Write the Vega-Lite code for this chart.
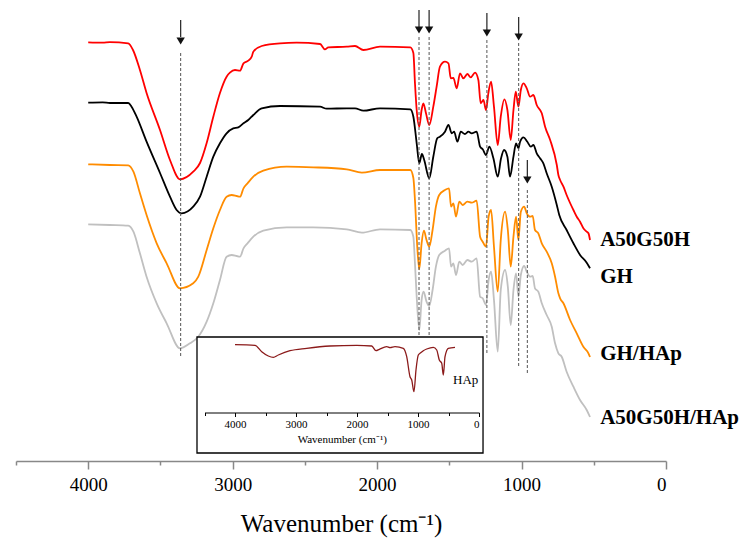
{
  "$schema": "https://vega.github.io/schema/vega-lite/v6.json",
  "width": 650,
  "height": 461,
  "autosize": "none",
  "padding": {"left": 16, "top": 0, "right": 81, "bottom": 78},
  "config": {"font": "Liberation Serif", "view": {"stroke": null}, "axis": {"labelFont": "Liberation Serif", "titleFont": "Liberation Serif"}, "text": {"font": "Liberation Serif"}},
  "datasets": {
    "spec": [
      {"s":"r","w":4000,"v":418.7},{"s":"r","w":3900,"v":418.3},{"s":"r","w":3850,"v":418.8},{"s":"r","w":3723,"v":417.7},{"s":"r","w":3690,"v":411},{"s":"r","w":3642,"v":391},{"s":"r","w":3596,"v":368},{"s":"r","w":3503,"v":331},{"s":"r","w":3434,"v":301},{"s":"r","w":3365,"v":281.7},{"s":"r","w":3273,"v":289.3},{"s":"r","w":3226,"v":298},{"s":"r","w":3180,"v":318},{"s":"r","w":3134,"v":344.3},{"s":"r","w":3088,"v":368},{"s":"r","w":3042,"v":384.3},{"s":"r","w":3019,"v":388.3},{"s":"r","w":2984,"v":391},{"s":"r","w":2949,"v":390.3},{"s":"r","w":2925,"v":397.7},{"s":"r","w":2892,"v":400.3},{"s":"r","w":2868,"v":404.3},{"s":"r","w":2857,"v":409.3},{"s":"r","w":2799,"v":415},{"s":"r","w":2672,"v":417.7},{"s":"r","w":2557,"v":418.3},{"s":"r","w":2395,"v":417},{"s":"r","w":2361,"v":411.7},{"s":"r","w":2338,"v":413.7},{"s":"r","w":2210,"v":414.3},{"s":"r","w":2153,"v":415},{"s":"r","w":2095,"v":411},{"s":"r","w":1980,"v":414.3},{"s":"r","w":1770,"v":413.7},{"s":"r","w":1749,"v":408},{"s":"r","w":1738,"v":378},{"s":"r","w":1726,"v":351},{"s":"r","w":1708,"v":334.3},{"s":"r","w":1692,"v":351},{"s":"r","w":1680,"v":357.7},{"s":"r","w":1662,"v":348},{"s":"r","w":1639,"v":336},{"s":"r","w":1611,"v":354.3},{"s":"r","w":1588,"v":374.3},{"s":"r","w":1565,"v":394.3},{"s":"r","w":1530,"v":399.3},{"s":"r","w":1506,"v":397.7},{"s":"r","w":1490,"v":382.7},{"s":"r","w":1472,"v":383},{"s":"r","w":1449,"v":372.7},{"s":"r","w":1426,"v":387.7},{"s":"r","w":1403,"v":382.7},{"s":"r","w":1375,"v":387},{"s":"r","w":1352,"v":383.7},{"s":"r","w":1322,"v":388.3},{"s":"r","w":1299,"v":381},{"s":"r","w":1283,"v":357.7},{"s":"r","w":1264,"v":361},{"s":"r","w":1246,"v":351},{"s":"r","w":1230,"v":367.7},{"s":"r","w":1211,"v":379.3},{"s":"r","w":1191,"v":354.3},{"s":"r","w":1165,"v":316},{"s":"r","w":1144,"v":344.3},{"s":"r","w":1119,"v":361.7},{"s":"r","w":1098,"v":351},{"s":"r","w":1075,"v":321},{"s":"r","w":1056,"v":351},{"s":"r","w":1040,"v":369.3},{"s":"r","w":1022,"v":354.3},{"s":"r","w":1005,"v":371},{"s":"r","w":987,"v":377.7},{"s":"r","w":964,"v":372.7},{"s":"r","w":941,"v":364.3},{"s":"r","w":918,"v":366},{"s":"r","w":895,"v":356},{"s":"r","w":860,"v":347.7},{"s":"r","w":837,"v":334.3},{"s":"r","w":802,"v":321},{"s":"r","w":756,"v":296},{"s":"r","w":745,"v":286},{"s":"r","w":733,"v":281},{"s":"r","w":710,"v":274.3},{"s":"r","w":688,"v":266},{"s":"r","w":664,"v":258},{"s":"r","w":641,"v":251},{"s":"r","w":618,"v":244.3},{"s":"r","w":595,"v":239.3},{"s":"r","w":572,"v":232.7},{"s":"r","w":549,"v":229.3},{"s":"r","w":537,"v":227.7},{"s":"r","w":526,"v":221},
      {"s":"k","w":4000,"v":358.3},{"s":"k","w":3900,"v":358.6},{"s":"k","w":3850,"v":358},{"s":"k","w":3723,"v":358},{"s":"k","w":3700,"v":354.3},{"s":"k","w":3665,"v":344.3},{"s":"k","w":3596,"v":319.3},{"s":"k","w":3503,"v":288},{"s":"k","w":3434,"v":264.3},{"s":"k","w":3388,"v":251},{"s":"k","w":3354,"v":247.7},{"s":"k","w":3273,"v":254.3},{"s":"k","w":3226,"v":264.3},{"s":"k","w":3180,"v":284.3},{"s":"k","w":3134,"v":304.3},{"s":"k","w":3088,"v":317.7},{"s":"k","w":3042,"v":327.7},{"s":"k","w":2996,"v":332.7},{"s":"k","w":2961,"v":333.7},{"s":"k","w":2925,"v":337.7},{"s":"k","w":2892,"v":341},{"s":"k","w":2857,"v":346},{"s":"k","w":2799,"v":352.7},{"s":"k","w":2672,"v":355},{"s":"k","w":2395,"v":354.3},{"s":"k","w":2349,"v":352.3},{"s":"k","w":2210,"v":352.7},{"s":"k","w":2153,"v":352.7},{"s":"k","w":2095,"v":350.3},{"s":"k","w":1980,"v":352.7},{"s":"k","w":1770,"v":351.7},{"s":"k","w":1749,"v":344.3},{"s":"k","w":1726,"v":317.7},{"s":"k","w":1708,"v":297.7},{"s":"k","w":1690,"v":307},{"s":"k","w":1674,"v":301},{"s":"k","w":1639,"v":282.7},{"s":"k","w":1611,"v":304.3},{"s":"k","w":1584,"v":322.7},{"s":"k","w":1565,"v":324.3},{"s":"k","w":1530,"v":329.3},{"s":"k","w":1506,"v":336},{"s":"k","w":1483,"v":327.7},{"s":"k","w":1467,"v":329.3},{"s":"k","w":1444,"v":319.3},{"s":"k","w":1421,"v":329.3},{"s":"k","w":1392,"v":327},{"s":"k","w":1368,"v":329.3},{"s":"k","w":1345,"v":327.7},{"s":"k","w":1311,"v":329.3},{"s":"k","w":1287,"v":314.3},{"s":"k","w":1269,"v":311.7},{"s":"k","w":1246,"v":306},{"s":"k","w":1223,"v":314.3},{"s":"k","w":1195,"v":302.7},{"s":"k","w":1165,"v":284.3},{"s":"k","w":1142,"v":302.7},{"s":"k","w":1121,"v":311},{"s":"k","w":1098,"v":304.3},{"s":"k","w":1080,"v":284.3},{"s":"k","w":1056,"v":304.3},{"s":"k","w":1038,"v":317.7},{"s":"k","w":1022,"v":312.7},{"s":"k","w":1010,"v":319.3},{"s":"k","w":987,"v":323.7},{"s":"k","w":960,"v":319.3},{"s":"k","w":936,"v":314.3},{"s":"k","w":918,"v":316},{"s":"k","w":895,"v":307.7},{"s":"k","w":872,"v":302.7},{"s":"k","w":849,"v":297.7},{"s":"k","w":826,"v":287.7},{"s":"k","w":791,"v":274.3},{"s":"k","w":756,"v":256},{"s":"k","w":739,"v":246},{"s":"k","w":688,"v":231},{"s":"k","w":641,"v":217.7},{"s":"k","w":595,"v":206},{"s":"k","w":549,"v":198.3},{"s":"k","w":526,"v":192.7},
      {"s":"o","w":4000,"v":296.7},{"s":"o","w":3850,"v":296},{"s":"o","w":3723,"v":295.7},{"s":"o","w":3687,"v":289.3},{"s":"o","w":3642,"v":267.7},{"s":"o","w":3596,"v":246},{"s":"o","w":3526,"v":217.7},{"s":"o","w":3457,"v":197.7},{"s":"o","w":3365,"v":172.7},{"s":"o","w":3273,"v":177.7},{"s":"o","w":3238,"v":184.3},{"s":"o","w":3180,"v":211},{"s":"o","w":3134,"v":232.7},{"s":"o","w":3088,"v":251},{"s":"o","w":3042,"v":264.3},{"s":"o","w":3007,"v":266},{"s":"o","w":2972,"v":265},{"s":"o","w":2949,"v":264.3},{"s":"o","w":2925,"v":272.7},{"s":"o","w":2897,"v":277.7},{"s":"o","w":2857,"v":284.3},{"s":"o","w":2788,"v":290.3},{"s":"o","w":2626,"v":294.3},{"s":"o","w":2442,"v":293.7},{"s":"o","w":2210,"v":291.7},{"s":"o","w":2106,"v":288.3},{"s":"o","w":1980,"v":291},{"s":"o","w":1770,"v":291},{"s":"o","w":1749,"v":283},{"s":"o","w":1738,"v":261},{"s":"o","w":1722,"v":214.3},{"s":"o","w":1708,"v":191.7},{"s":"o","w":1692,"v":217.7},{"s":"o","w":1676,"v":230.3},{"s":"o","w":1658,"v":221},{"s":"o","w":1639,"v":214.3},{"s":"o","w":1616,"v":231},{"s":"o","w":1593,"v":254.3},{"s":"o","w":1570,"v":266},{"s":"o","w":1530,"v":271},{"s":"o","w":1502,"v":272.7},{"s":"o","w":1488,"v":254.3},{"s":"o","w":1472,"v":257.7},{"s":"o","w":1454,"v":244.3},{"s":"o","w":1431,"v":259.3},{"s":"o","w":1408,"v":256},{"s":"o","w":1375,"v":259.3},{"s":"o","w":1345,"v":258.3},{"s":"o","w":1311,"v":260.3},{"s":"o","w":1287,"v":224.3},{"s":"o","w":1269,"v":219.3},{"s":"o","w":1246,"v":214.3},{"s":"o","w":1228,"v":244.3},{"s":"o","w":1211,"v":251},{"s":"o","w":1191,"v":214.3},{"s":"o","w":1165,"v":169.3},{"s":"o","w":1144,"v":221},{"s":"o","w":1114,"v":249.3},{"s":"o","w":1095,"v":231},{"s":"o","w":1075,"v":194.3},{"s":"o","w":1056,"v":224.3},{"s":"o","w":1038,"v":244.3},{"s":"o","w":1022,"v":221},{"s":"o","w":1005,"v":249.3},{"s":"o","w":982,"v":254.3},{"s":"o","w":964,"v":247.7},{"s":"o","w":941,"v":244.3},{"s":"o","w":923,"v":245},{"s":"o","w":907,"v":231},{"s":"o","w":884,"v":227.7},{"s":"o","w":860,"v":217.7},{"s":"o","w":826,"v":209.3},{"s":"o","w":791,"v":197.7},{"s":"o","w":768,"v":184.3},{"s":"o","w":745,"v":167.7},{"s":"o","w":733,"v":162.7},{"s":"o","w":710,"v":157.7},{"s":"o","w":664,"v":141},{"s":"o","w":618,"v":127.7},{"s":"o","w":572,"v":114.3},{"s":"o","w":537,"v":107.7},{"s":"o","w":526,"v":104},
      {"s":"g","w":4000,"v":236.7},{"s":"g","w":3850,"v":236},{"s":"g","w":3723,"v":235.3},{"s":"g","w":3687,"v":229.3},{"s":"g","w":3642,"v":207.7},{"s":"g","w":3596,"v":184.3},{"s":"g","w":3526,"v":157.7},{"s":"g","w":3457,"v":137.7},{"s":"g","w":3365,"v":112.7},{"s":"g","w":3296,"v":117.7},{"s":"g","w":3238,"v":124.3},{"s":"g","w":3180,"v":139.3},{"s":"g","w":3134,"v":157.7},{"s":"g","w":3088,"v":181},{"s":"g","w":3042,"v":204.3},{"s":"g","w":3007,"v":206},{"s":"g","w":2972,"v":205},{"s":"g","w":2949,"v":204.3},{"s":"g","w":2925,"v":212.7},{"s":"g","w":2897,"v":217.7},{"s":"g","w":2857,"v":224.3},{"s":"g","w":2788,"v":230.3},{"s":"g","w":2626,"v":233.7},{"s":"g","w":2442,"v":233.7},{"s":"g","w":2210,"v":231.7},{"s":"g","w":2106,"v":228.3},{"s":"g","w":1980,"v":231.7},{"s":"g","w":1770,"v":231},{"s":"g","w":1749,"v":224.3},{"s":"g","w":1738,"v":197.7},{"s":"g","w":1726,"v":164.3},{"s":"g","w":1708,"v":131},{"s":"g","w":1692,"v":161},{"s":"g","w":1678,"v":169.3},{"s":"g","w":1658,"v":159.3},{"s":"g","w":1639,"v":155},{"s":"g","w":1616,"v":171},{"s":"g","w":1593,"v":194.3},{"s":"g","w":1570,"v":206},{"s":"g","w":1530,"v":210.3},{"s":"g","w":1502,"v":212.7},{"s":"g","w":1488,"v":194.3},{"s":"g","w":1472,"v":197.7},{"s":"g","w":1454,"v":186},{"s":"g","w":1431,"v":199.3},{"s":"g","w":1408,"v":196},{"s":"g","w":1375,"v":201},{"s":"g","w":1345,"v":199.3},{"s":"g","w":1311,"v":202.7},{"s":"g","w":1287,"v":164.3},{"s":"g","w":1269,"v":162.7},{"s":"g","w":1246,"v":156},{"s":"g","w":1228,"v":181},{"s":"g","w":1211,"v":189.3},{"s":"g","w":1191,"v":161},{"s":"g","w":1165,"v":109.3},{"s":"g","w":1144,"v":171},{"s":"g","w":1114,"v":191},{"s":"g","w":1095,"v":174.3},{"s":"g","w":1075,"v":136},{"s":"g","w":1056,"v":171},{"s":"g","w":1038,"v":187.7},{"s":"g","w":1022,"v":164.3},{"s":"g","w":1005,"v":186},{"s":"g","w":982,"v":195},{"s":"g","w":964,"v":189.3},{"s":"g","w":941,"v":184.3},{"s":"g","w":923,"v":185},{"s":"g","w":907,"v":172.7},{"s":"g","w":884,"v":169.3},{"s":"g","w":860,"v":157.7},{"s":"g","w":826,"v":146},{"s":"g","w":791,"v":134.3},{"s":"g","w":768,"v":117.7},{"s":"g","w":745,"v":107.7},{"s":"g","w":722,"v":104.3},{"s":"g","w":688,"v":89.3},{"s":"g","w":641,"v":74.3},{"s":"g","w":595,"v":61},{"s":"g","w":549,"v":51},{"s":"g","w":526,"v":44}
    ],
    "hap": [
      {"w":4000,"v":116.3},{"w":3672,"v":115.7},{"w":3562,"v":109.3},{"w":3454,"v":105},{"w":3372,"v":103.7},{"w":3290,"v":106},{"w":3098,"v":110.3},{"w":2825,"v":112.7},{"w":2443,"v":115},{"w":2005,"v":115.7},{"w":1759,"v":115},{"w":1689,"v":110.3},{"w":1634,"v":111.7},{"w":1513,"v":114.3},{"w":1459,"v":113.3},{"w":1377,"v":114.3},{"w":1241,"v":112.7},{"w":1185,"v":104.3},{"w":1131,"v":84.3},{"w":1103,"v":81},{"w":1066,"v":69.3},{"w":1033,"v":91},{"w":995,"v":106},{"w":956,"v":108.3},{"w":913,"v":110.3},{"w":857,"v":112},{"w":749,"v":113.7},{"w":693,"v":111},{"w":651,"v":101},{"w":611,"v":97.7},{"w":585,"v":86},{"w":557,"v":104.3},{"w":503,"v":112.7},{"w":393,"v":113.7}
    ],
    "dash": [
      {"w":3360,"a":408,"b":104},{"w":1710,"a":424,"b":121},{"w":1640,"a":424,"b":121},{"w":1240,"a":421,"b":108},{"w":1020,"a":418,"b":94},{"w":960,"a":271,"b":88}
    ],
    "arrow": [
      {"w":3360,"top":441,"bot":424,"head":420},{"w":1710,"top":451,"bot":434,"head":431},{"w":1640,"top":451,"bot":434,"head":431},{"w":1240,"top":448,"bot":431,"head":428},{"w":1020,"top":444,"bot":427,"head":424},{"w":960,"top":301,"bot":284,"head":281}
    ],
    "lab": [
      {"w":456,"v":215.3,"t":"A50G50H"},{"w":456,"v":178.3,"t":"GH"},{"w":456,"v":101,"t":"GH/HAp"},{"w":456,"v":37,"t":"A50G50H/HAp"}
    ],
    "box": [{"x1":4623,"x2":-66,"y1":124,"y2":8}],
    "hlab": [{"w":426,"v":77,"t":"HAp"}]
  },
  "layer": [
    {
      "layer": [
        {
          "data": {"name": "spec"},
          "mark": {"type": "line", "strokeWidth": 1.8, "interpolate": "monotone"},
          "encoding": {
            "x": {"field": "w", "type": "quantitative", "scale": {"domain": [4500, 0], "nice": false},
              "axis": {"values": [4500,4000,3500,3000,2500,2000,1500,1000,500,0],
                "labelExpr": "datum.value % 1000 == 0 ? format(datum.value, 'd') : ''",
                "tickSize": {"condition": {"test": "datum.value % 1000 == 0", "value": 8}, "value": 4},
                "domainColor": "#888888", "domainWidth": 1.5, "tickColor": "#888888", "tickWidth": 1.5,
                "labelFont": "Liberation Serif", "titleFont": "Liberation Serif",
                "labelFontSize": 19, "labelColor": "#000000", "labelPadding": 6, "labelOverlap": false,
                "title": "Wavenumber (cm⁻¹)", "titleFontSize": 25, "titleFontWeight": "normal", "titleColor": "#000000", "titlePadding": 17, "grid": false}},
            "y": {"field": "v", "type": "quantitative", "scale": {"domain": [0, 461], "nice": false, "zero": false}, "axis": null},
            "color": {"field": "s", "type": "nominal", "scale": {"domain": ["r","k","o","g"], "range": ["#ff0000","#000000","#ff8c00","#c0c0c0"]}, "legend": null},
            "detail": {"field": "s"}
          }
        },
        {
          "data": {"name": "dash"},
          "mark": {"type": "rule", "strokeDash": [3, 2], "color": "#555555", "strokeWidth": 1},
          "encoding": {
            "x": {"field": "w", "type": "quantitative"},
            "y": {"field": "a", "type": "quantitative"},
            "y2": {"field": "b"}
          }
        },
        {
          "data": {"name": "arrow"},
          "mark": {"type": "rule", "color": "#222222", "strokeWidth": 1.2},
          "encoding": {
            "x": {"field": "w", "type": "quantitative"},
            "y": {"field": "top", "type": "quantitative"},
            "y2": {"field": "bot"}
          }
        },
        {
          "data": {"name": "arrow"},
          "mark": {"type": "point", "shape": "triangle-down", "filled": true, "color": "#111111", "opacity": 1, "size": 70},
          "encoding": {
            "x": {"field": "w", "type": "quantitative"},
            "y": {"field": "head", "type": "quantitative"}
          }
        },
        {
          "data": {"name": "lab"},
          "mark": {"type": "text", "align": "left", "baseline": "alphabetic", "font": "Liberation Serif", "fontWeight": "bold", "fontSize": 21, "color": "#000000"},
          "encoding": {
            "x": {"field": "w", "type": "quantitative"},
            "y": {"field": "v", "type": "quantitative"},
            "text": {"field": "t"}
          }
        }
      ]
    },
    {
      "layer": [
        {
          "data": {"name": "box"},
          "mark": {"type": "rect", "fill": "#ffffff", "stroke": "#000000", "strokeWidth": 1.3},
          "encoding": {
            "x": {"field": "x1", "type": "quantitative", "scale": {"domain": [4500, 0], "range": [188.5, 463], "nice": false},
              "axis": {"orient": "bottom", "offset": -48.5, "zindex": 2, "values": [4500,4000,3500,3000,2500,2000,1500,1000,500,0],
                "labelExpr": "datum.value % 1000 == 0 ? format(datum.value, 'd') : ''",
                "tickSize": {"condition": {"test": "datum.value % 1000 == 0", "value": 4}, "value": 3},
                "domainColor": "#000000", "domainWidth": 1, "tickColor": "#000000", "tickWidth": 1,
                "labelFont": "Liberation Serif", "titleFont": "Liberation Serif",
                "labelFontSize": 11, "labelColor": "#000000", "labelPadding": 2, "labelOverlap": false,
                "title": "Wavenumber (cm⁻¹)", "titleFontSize": 11, "titleFontWeight": "normal", "titleColor": "#000000", "titlePadding": 4, "grid": false}},
            "x2": {"field": "x2"},
            "y": {"field": "y1", "type": "quantitative"},
            "y2": {"field": "y2"}
          }
        },
        {
          "data": {"name": "hap"},
          "mark": {"type": "line", "color": "#8b1a1a", "strokeWidth": 1.3, "interpolate": "monotone"},
          "encoding": {
            "x": {"field": "w", "type": "quantitative"},
            "y": {"field": "v", "type": "quantitative"}
          }
        },
        {
          "data": {"name": "hlab"},
          "mark": {"type": "text", "align": "left", "baseline": "alphabetic", "font": "Liberation Serif", "fontSize": 13, "color": "#000000"},
          "encoding": {
            "x": {"field": "w", "type": "quantitative"},
            "y": {"field": "v", "type": "quantitative"},
            "text": {"field": "t"}
          }
        }
      ]
    }
  ],
  "resolve": {"scale": {"x": "independent", "y": "shared"}, "axis": {"x": "independent"}}
}
